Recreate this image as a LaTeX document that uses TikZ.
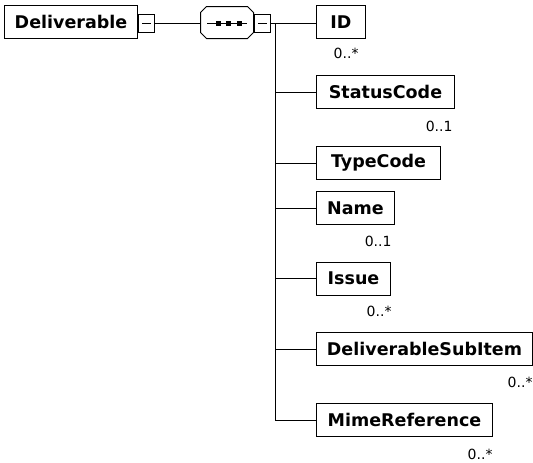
\documentclass[tikz,border=0pt]{standalone}
\usepackage{fontspec}
\setmainfont{DejaVu Sans}
\usetikzlibrary{calc}
\begin{document}
\begin{tikzpicture}[x=1pt,y=-1pt,line width=1pt,
  elem/.style={draw,rectangle,minimum height=33pt,inner sep=0pt,anchor=west,font=\fontsize{17.5}{18}\selectfont\bfseries},
  minusbox/.style={draw,rectangle,minimum width=16pt,minimum height=18pt,inner sep=0pt,anchor=west},
  mult/.style={anchor=east,inner sep=0pt,font=\fontsize{14}{15}\selectfont},
  conn/.style={draw,line width=1pt}]
\useasboundingbox (0,0) rectangle (533,463);
% root
\node[elem,minimum width=133pt] (deliv) at (4,22) {Deliverable};
\node[minusbox] (m1) at (138,23) {};
\draw ($(m1.center)+(-4.5,0)$) -- ($(m1.center)+(4.5,0)$);
% sequence compositor
\node[minimum width=52pt,minimum height=31pt,inner sep=0pt] (seq) at (227,22.5) {};
\draw ($(seq.north west)+(6,0)$) -- ($(seq.north east)+(-6,0)$) -- ($(seq.north east)+(0,6)$)
  -- ($(seq.south east)+(0,-6)$) -- ($(seq.south east)+(-6,0)$) -- ($(seq.south west)+(6,0)$)
  -- ($(seq.south west)+(0,-6)$) -- ($(seq.north west)+(0,6)$) -- cycle;
\draw ($(seq.center)+(-20,0.5)$) -- ($(seq.center)+(20,0.5)$);
\foreach \dx in {-9,1,12} \fill ($(seq.center)+(\dx-2.5,-2)$) rectangle ++(5,5);
\node[minusbox] (m2) at (254,23) {};
\draw ($(m2.center)+(-4.5,0)$) -- ($(m2.center)+(4.5,0)$);
% children
\node[elem,minimum width=49pt] (id) at (316,22) {ID};
\node[elem,minimum width=138pt] (status) at (316,92) {StatusCode};
\node[elem,minimum width=124pt] (type) at (316,163) {TypeCode};
\node[elem,minimum width=78pt] (name) at (316,208) {Name};
\node[elem,minimum width=74pt] (issue) at (316,278.5) {Issue};
\node[elem,minimum width=216pt] (dsi) at (316,349) {DeliverableSubItem};
\node[elem,minimum width=176pt] (mime) at (316,420) {MimeReference};
% multiplicities
\node[mult] (idm) at ($(id.south east)+(-7,14)$) {0..*};
\node[mult] (statusm) at ($(status.south east)+(-2,17)$) {0..1};
\node[mult] (namem) at ($(name.south east)+(-3,16)$) {0..1};
\node[mult] (issuem) at ($(issue.south east)+(1,16)$) {0..*};
\node[mult] (dsim) at ($(dsi.south east)+(0,16)$) {0..*};
\node[mult] (mimem) at ($(mime.south east)+(0,17)$) {0..*};
% connectors
\coordinate (jn) at (275,23);
\draw[conn] (m1.east) -- (seq.west |- m1.east);
\draw[conn] (m2.east) -- (id.west |- m2.east);
\foreach \c in {status,type,name,issue,dsi,mime}
  \draw[conn] (jn) |- (\c.west);
\end{tikzpicture}
\end{document}
